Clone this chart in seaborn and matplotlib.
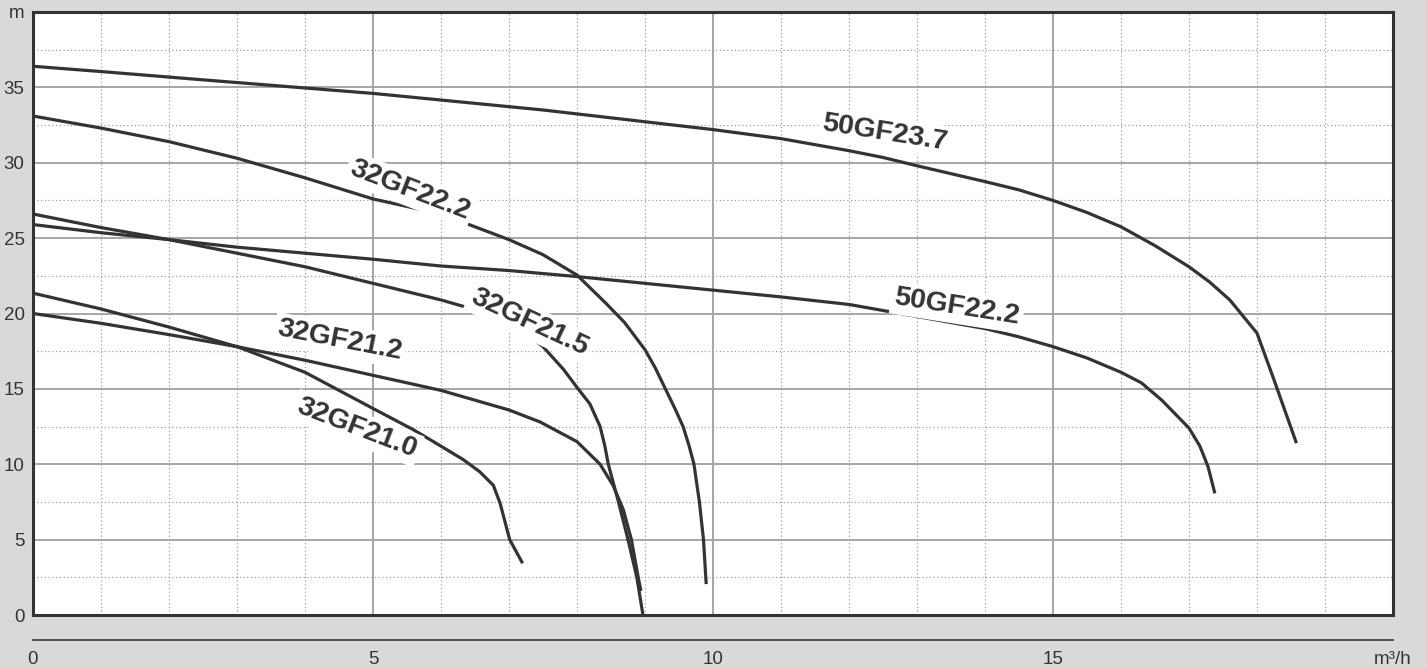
import matplotlib
matplotlib.use("Agg")
import matplotlib.pyplot as plt
import seaborn as sns
import pandas as pd
from matplotlib.ticker import MultipleLocator, FixedLocator

# ---------------- data ----------------
models = ["50GF23.7", "50GF22.2", "32GF22.2", "32GF21.5", "32GF21.2", "32GF21.0"]

x_50GF23_7 = [0, 1, 2.5, 5, 7.5, 10, 11, 12, 12.5, 13, 14, 14.5, 15, 15.5, 16, 16.5, 17, 17.3, 17.6, 18, 18.25, 18.58]
y_50GF23_7 = [36.4, 36.05, 35.5, 34.6, 33.5, 32.2, 31.6, 30.8, 30.35, 29.8, 28.75, 28.2, 27.5, 26.7, 25.75, 24.5, 23.1, 22.1, 20.9, 18.7, 15.6, 11.4]

x_50GF22_2 = [0, 1, 2, 3, 4, 5, 6, 7, 8, 9, 10, 11, 12, 12.5, 13, 14, 14.5, 15, 15.5, 16, 16.3, 16.6, 17.0, 17.16, 17.28, 17.38]
y_50GF22_2 = [25.9, 25.36, 24.9, 24.4, 24.0, 23.6, 23.15, 22.85, 22.45, 22.0, 21.55, 21.1, 20.6, 20.2, 19.8, 19.0, 18.45, 17.8, 17.05, 16.1, 15.4, 14.25, 12.4, 11.2, 9.84, 8.07]

x_32GF22_2 = [0, 1, 2, 3, 4, 5, 6, 7, 7.5, 8, 8.42, 8.7, 9.0, 9.15, 9.3, 9.45, 9.56, 9.65, 9.72, 9.8, 9.86, 9.9]
y_32GF22_2 = [33.1, 32.3, 31.4, 30.3, 29.0, 27.6, 26.6, 24.9, 23.9, 22.55, 20.7, 19.4, 17.6, 16.4, 15.0, 13.6, 12.5, 11.2, 10.0, 7.5, 5.0, 2.05]

x_32GF21_5 = [0, 1, 2, 3, 4, 5, 6, 7, 7.5, 7.8, 8.0, 8.19, 8.34, 8.41, 8.46, 8.61, 8.75, 8.88, 8.97]
y_32GF21_5 = [26.6, 25.7, 24.9, 24.0, 23.1, 22.0, 20.9, 19.6, 17.8, 16.3, 15.1, 14.0, 12.5, 11.2, 10.0, 7.5, 5.0, 2.5, 0.0]

x_32GF21_2 = [0, 1, 2, 3, 4, 5, 6, 7, 7.46, 8.0, 8.34, 8.53, 8.68, 8.8, 8.9, 8.94]
y_32GF21_2 = [20.0, 19.35, 18.6, 17.8, 16.9, 15.9, 14.9, 13.6, 12.8, 11.5, 10.0, 8.6, 7.0, 5.0, 2.5, 1.6]

x_32GF21_0 = [0, 1, 2, 3, 4, 5, 5.59, 6.0, 6.33, 6.57, 6.77, 6.87, 7.01, 7.2]
y_32GF21_0 = [21.35, 20.3, 19.1, 17.8, 16.1, 13.7, 12.3, 11.2, 10.3, 9.5, 8.6, 7.4, 5.0, 3.43]

curves_x = [x_50GF23_7, x_50GF22_2, x_32GF22_2, x_32GF21_5, x_32GF21_2, x_32GF21_0]
curves_y = [y_50GF23_7, y_50GF22_2, y_32GF22_2, y_32GF21_5, y_32GF21_2, y_32GF21_0]

# label anchor (data coords) and rotation
label_x = [12.53, 13.59, 5.54, 7.31, 4.51, 4.76]
label_y = [31.97, 20.4, 28.2, 19.4, 18.2, 12.4]
label_rot = [-9, -9, -21, -25, -11, -21]

x_ticks = [0, 5, 10, 15, 20]
x_ticklabels = ["0", "5", "10", "15", "m³/h"]
y_ticks = [0, 5, 10, 15, 20, 25, 30, 35, 40]
y_ticklabels = ["0", "5", "10", "15", "20", "25", "30", "35", "m"]

# ---------------- build table ----------------
rows = []
for m, xs, ys in zip(models, curves_x, curves_y):
    for a, b in zip(xs, ys):
        rows.append({"model": m, "flow": a, "head": b})
df = pd.DataFrame(rows)

# ---------------- style ----------------
sns.set_theme(style="white")
plt.rcParams["font.family"] = ["Liberation Sans", "DejaVu Sans"]

BG = "#d9d9da"
INK = "#333333"

fig = plt.figure(figsize=(14.27, 6.68), dpi=100, facecolor=BG)
ax = fig.add_axes([33 / 1427, 1 - 615 / 668, (1393 - 33) / 1427, (615 - 12) / 668])
ax.set_facecolor("white")

sns.lineplot(data=df, x="flow", y="head", hue="model", units="model",
             palette=[INK] * len(models), hue_order=models, estimator=None,
             sort=False, legend=False, linewidth=2.3, ax=ax,
             solid_joinstyle="round", solid_capstyle="butt")

ax.set_xlim(0, 20)
ax.set_ylim(0, 40)

# grid
ax.xaxis.set_major_locator(FixedLocator(x_ticks))
ax.yaxis.set_major_locator(FixedLocator(y_ticks))
ax.xaxis.set_minor_locator(MultipleLocator(1))
ax.yaxis.set_minor_locator(MultipleLocator(2.5))
ax.grid(which="major", color="#a6a6a6", linewidth=1.4, linestyle="-")
ax.grid(which="minor", color="#a0a0a0", linewidth=0.9, linestyle=(0, (1, 2)))
ax.set_axisbelow(True)

ax.set_yticklabels(y_ticklabels)
ax.tick_params(axis="x", which="both", length=0, labelbottom=False)
ax.tick_params(axis="y", which="both", length=0, pad=6, labelsize=13.5, labelcolor=INK)
ax.set_xlabel("")
ax.set_ylabel("")

for s in ax.spines.values():
    s.set_color(INK)
    s.set_linewidth(2.2)

# curve labels
for m, lx, ly, r in zip(models, label_x, label_y, label_rot):
    ax.text(lx, ly, m, rotation=r, rotation_mode="anchor", ha="center", va="center",
            fontsize=20.5, fontweight="bold", color=INK,
            bbox=dict(facecolor="white", edgecolor="none", pad=2.5), zorder=3)

# separate x axis below the plot
ax2 = ax.secondary_xaxis(-25 / 603)
ax2.set_xticks(x_ticks)
ax2.set_xticklabels(x_ticklabels)
ax2.xaxis.set_minor_locator(FixedLocator([0, 20]))
ax2.tick_params(axis="x", which="major", length=0, pad=8, labelsize=13.5, labelcolor=INK)
ax2.tick_params(axis="x", which="minor", length=14, width=1.2, direction="inout", color="#444444")
ax2.spines["bottom"].set_color("#444444")
ax2.spines["bottom"].set_linewidth(1.3)

fig.savefig("out.png", dpi=100, facecolor=BG)
